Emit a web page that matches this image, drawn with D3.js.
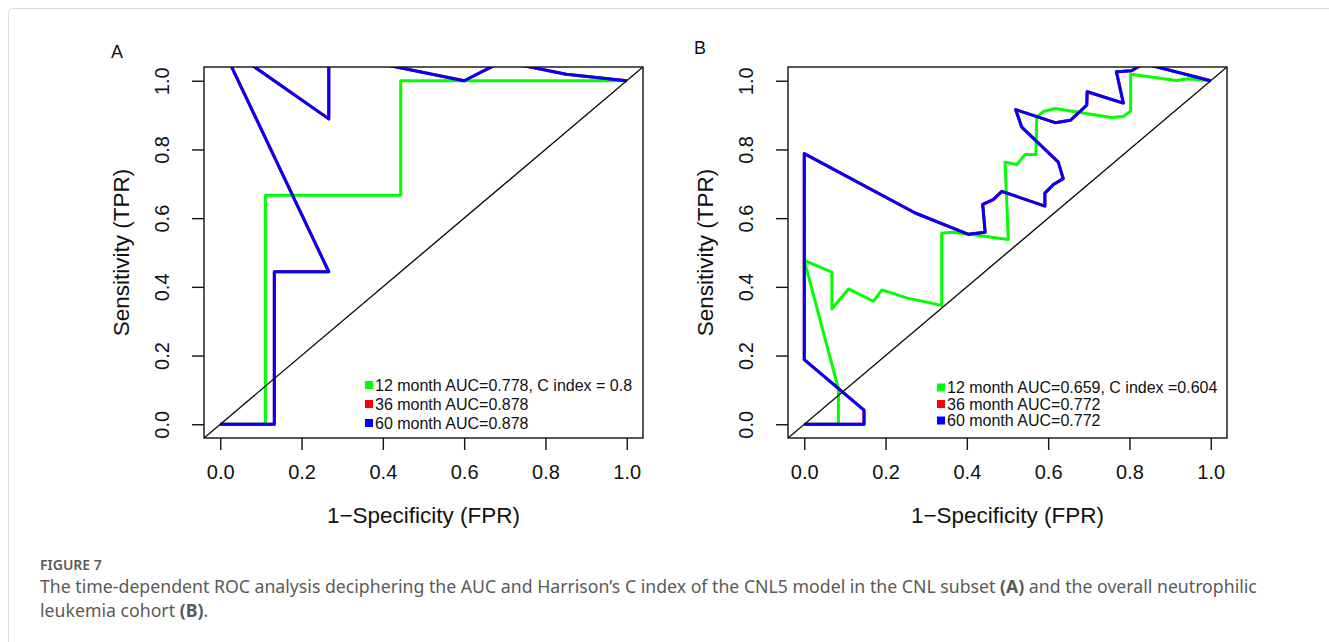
<!DOCTYPE html>
<html>
<head>
<meta charset="utf-8">
<script src="https://cdn.jsdelivr.net/npm/d3@7"></script>
<style>
  body { margin: 0; background: #fff; }
  svg text { font-family: "Liberation Sans", Arial, sans-serif; fill: #111; }
</style>
</head>
<body>
<script>
// Tick values shared by both axes of both panels
const axisTicks = [0, 0.2, 0.4, 0.6, 0.8, 1.0];

// Panel A: CNL subset
const fpr12A = [0, 0.111, 0.111, 0.444, 0.444, 1];
const tpr12A = [0, 0, 0.667, 0.667, 1, 1];
const fpr36A = [0, 0.133, 0.133, 0.267, 0, 0.267, 0.267, 0.6, 0.7, 0.733, 0.851, 1];
const tpr36A = [0, 0, 0.444, 0.444, 1.11, 0.889, 1.08, 1.0, 1.06, 1.047, 1.019, 1];
const fpr60A = [0, 0.133, 0.133, 0.267, 0, 0.267, 0.267, 0.6, 0.7, 0.733, 0.851, 1];
const tpr60A = [0, 0, 0.444, 0.444, 1.11, 0.889, 1.08, 1.0, 1.06, 1.047, 1.019, 1];
const legendA = ["12 month AUC=0.778, C index = 0.8", "36 month AUC=0.878", "60 month AUC=0.878"];

// Panel B: overall neutrophilic leukemia cohort
const fpr12B = [0, 0.084, 0.084, 0, 0.068, 0.068, 0.109, 0.170, 0.191, 0.252, 0.338, 0.338, 0.363, 0.408,
  0.502, 0.494, 0.523, 0.543, 0.570, 0.572, 0.588, 0.617, 0.666, 0.756, 0.785, 0.803, 0.803, 0.866, 0.916, 0.944, 1];
const tpr12B = [0, 0, 0.103, 0.477, 0.443, 0.336, 0.394, 0.358, 0.391, 0.368, 0.346, 0.556, 0.559, 0.553,
  0.538, 0.763, 0.756, 0.785, 0.785, 0.895, 0.910, 0.919, 0.910, 0.893, 0.896, 0.912, 1.019, 1.009, 1.001, 1.006, 1];
const fpr36B = [0, 0.147, 0.147, 0, 0, 0.273, 0.404, 0.445, 0.439, 0.465, 0.486, 0.592, 0.592, 0.613,
  0.637, 0.625, 0.535, 0.520, 0.617, 0.655, 0.695, 0.696, 0.785, 0.768, 0.805, 0.835, 1];
const tpr36B = [0, 0, 0.041, 0.188, 0.788, 0.615, 0.553, 0.559, 0.640, 0.654, 0.678, 0.635, 0.673, 0.698,
  0.715, 0.763, 0.865, 0.916, 0.878, 0.885, 0.929, 0.968, 0.935, 1.026, 1.029, 1.050, 1];
const fpr60B = [0, 0.147, 0.147, 0, 0, 0.273, 0.404, 0.445, 0.439, 0.465, 0.486, 0.592, 0.592, 0.613,
  0.637, 0.625, 0.535, 0.520, 0.617, 0.655, 0.695, 0.696, 0.785, 0.768, 0.805, 0.835, 1];
const tpr60B = [0, 0, 0.041, 0.188, 0.788, 0.615, 0.553, 0.559, 0.640, 0.654, 0.678, 0.635, 0.673, 0.698,
  0.715, 0.763, 0.865, 0.916, 0.878, 0.885, 0.929, 0.968, 0.935, 1.026, 1.029, 1.050, 1];
const legendB = ["12 month AUC=0.659, C index =0.604", "36 month AUC=0.772", "60 month AUC=0.772"];

// 12, 36, 60 month
const colours = ["#00ff00", "#ff0000", "#0000ff"];

const width = 1329, height = 642;

const svg = d3.select("body")
  .append("svg")
  .attr("width", width)
  .attr("height", height);

svg.append("rect")
  .attr("width", width).attr("height", height)
  .attr("fill", "#fff");

// Light page frame
svg.append("rect")
  .attr("x", 8.5).attr("y", 8.5)
  .attr("width", width + 20).attr("height", height + 20)
  .attr("rx", 4)
  .attr("fill", "none")
  .attr("stroke", "#dadada");

const fmt = d3.format(".1f");

function drawPanel(p) {
  const x = d3.scaleLinear().domain([-0.04, 1.04]).range([p.left, p.right]);
  const y = d3.scaleLinear().domain([-0.04, 1.04]).range([p.bottom, p.top]);
  const g = svg.append("g");

  const clipId = "clip" + p.letter;
  svg.append("clipPath").attr("id", clipId)
    .append("rect")
    .attr("x", p.left).attr("y", p.top)
    .attr("width", p.right - p.left).attr("height", p.bottom - p.top);

  const plot = g.append("g").attr("clip-path", `url(#${clipId})`);
  const line = d3.line().x(d => x(d[0])).y(d => y(d[1]));

  // ROC curves
  p.series.forEach((s, i) => {
    plot.append("path")
      .datum(d3.zip(s[0], s[1]))
      .attr("d", line)
      .attr("fill", "none")
      .attr("stroke", colours[i])
      .attr("stroke-width", 3)
      .attr("stroke-linejoin", "round");
  });

  // Reference diagonal
  plot.append("path")
    .datum([[-0.04, -0.04], [1.04, 1.04]])
    .attr("d", line)
    .attr("stroke", "#000")
    .attr("stroke-width", 1.3);

  // Box
  g.append("rect")
    .attr("x", p.left).attr("y", p.top)
    .attr("width", p.right - p.left).attr("height", p.bottom - p.top)
    .attr("fill", "none")
    .attr("stroke", "#111")
    .attr("stroke-width", 1.4);

  // X axis
  const xAxis = g.append("g")
    .attr("transform", `translate(0, ${p.bottom})`)
    .call(d3.axisBottom(x).tickValues(axisTicks).tickFormat(fmt)
      .tickSize(12).tickPadding(15).tickSizeOuter(0));
  xAxis.select(".domain").remove();
  xAxis.attr("font-family", null).attr("font-size", 20);
  xAxis.selectAll("line").attr("stroke", "#111").attr("stroke-width", 1.4);

  // Y axis, labels turned like base R
  const yAxis = g.append("g")
    .attr("transform", `translate(${p.left}, 0)`)
    .call(d3.axisLeft(y).tickValues(axisTicks).tickFormat(fmt)
      .tickSize(12).tickSizeOuter(0));
  yAxis.select(".domain").remove();
  yAxis.attr("font-family", null).attr("font-size", 20);
  yAxis.selectAll("line").attr("stroke", "#111").attr("stroke-width", 1.4);
  yAxis.selectAll("text")
    .attr("transform", "rotate(-90)")
    .attr("x", 0).attr("y", -35).attr("dy", 0)
    .attr("text-anchor", "middle");

  // Axis titles
  g.append("text")
    .attr("x", (p.left + p.right) / 2).attr("y", 523)
    .attr("text-anchor", "middle")
    .attr("font-size", 22.5)
    .text("1\u2212Specificity (FPR)");
  g.append("text")
    .attr("transform", `translate(${p.left - 75.5}, ${(p.top + p.bottom) / 2}) rotate(-90)`)
    .attr("text-anchor", "middle")
    .attr("font-size", 22.5)
    .text("Sensitivity (TPR)");

  // Legend
  const lg = g.append("g");
  p.legend.forEach((t, i) => {
    const ly = p.legendY + i * p.legendStep;
    lg.append("rect")
      .attr("x", p.legendX).attr("y", ly - 4)
      .attr("width", 8).attr("height", 8)
      .attr("fill", colours[i]);
    lg.append("text")
      .attr("x", p.legendX + 10).attr("y", ly)
      .attr("dy", "0.36em")
      .attr("font-size", 16)
      .text(t);
  });

  // Panel letter
  g.append("text")
    .attr("x", p.letterX).attr("y", p.letterY)
    .attr("font-size", 18)
    .attr("text-anchor", "middle")
    .text(p.letter);
}

drawPanel({
  letter: "A", letterX: 117, letterY: 58,
  left: 204, right: 643, top: 67, bottom: 438,
  series: [[fpr12A, tpr12A], [fpr36A, tpr36A], [fpr60A, tpr60A]],
  legend: legendA, legendX: 365, legendY: 385, legendStep: 19
});

drawPanel({
  letter: "B", letterX: 700, letterY: 54,
  left: 788, right: 1227, top: 67, bottom: 438,
  series: [[fpr12B, tpr12B], [fpr36B, tpr36B], [fpr60B, tpr60B]],
  legend: legendB, legendX: 937, legendY: 387.5, legendStep: 16.5
});

// Caption
const cap = svg.append("g");
cap.append("text")
  .attr("x", 40).attr("y", 569.5)
  .attr("font-size", 14)
  .attr("font-weight", 600)
  .style("font-family", "'Noto Sans', sans-serif")
  .style("fill", "#5a5a5a")
  .text("FIGURE 7");

const line1 = cap.append("text")
  .attr("x", 40).attr("y", 593)
  .attr("font-size", 17.7)
  .style("font-family", "'Noto Sans', sans-serif")
  .style("fill", "#5a5a5a");
line1.append("tspan").text("The time-dependent ROC analysis deciphering the AUC and Harrison\u2019s C index of the CNL5 model in the CNL subset ");
line1.append("tspan").attr("font-weight", "bold").text("(A)");
line1.append("tspan").text(" and the overall neutrophilic");

const line2 = cap.append("text")
  .attr("x", 40).attr("y", 617)
  .attr("font-size", 17.7)
  .style("font-family", "'Noto Sans', sans-serif")
  .style("fill", "#5a5a5a");
line2.append("tspan").text("leukemia cohort ");
line2.append("tspan").attr("font-weight", "bold").text("(B)");
line2.append("tspan").text(".");
</script>
</body>
</html>
